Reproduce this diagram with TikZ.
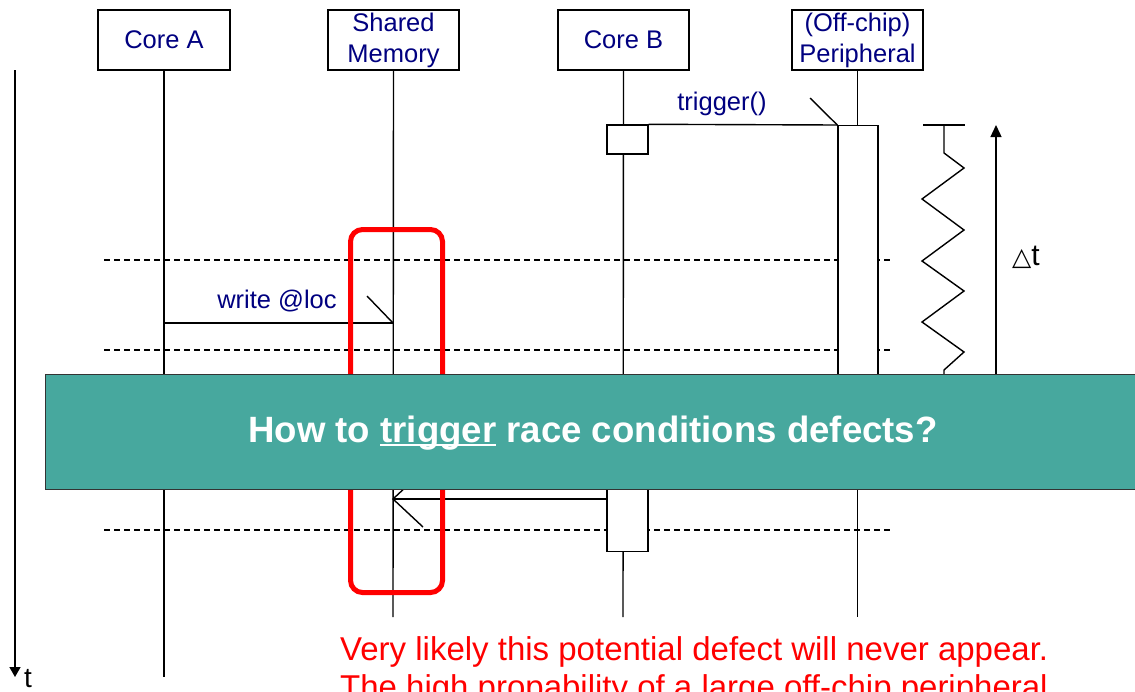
\documentclass[tikz,border=0pt]{standalone}
\usepackage{fontspec}
\setmainfont{Liberation Sans}
\newfontfamily\dejavu{DejaVu Sans}
\usetikzlibrary{arrows.meta}
\definecolor{navy}{RGB}{0,0,128}
\definecolor{bannerteal}{RGB}{71,168,158}
\newcommand\myul[1]{\setbox0\hbox{#1}\rlap{\rule[-4pt]{\wd0}{2.5pt}}\box0\relax}
\begin{document}
\begin{tikzpicture}[x=1pt,y=-1pt,
  lbl/.style={font=\fontsize{25.5}{31}\selectfont, text=navy},
  head/.style={draw, line width=1.4pt, fill=white, minimum width=131pt, minimum height=60pt, inner sep=0pt, align=center, lbl},
  life/.style={line width=1.4pt},
  act/.style={draw, line width=1.4pt, fill=white, inner sep=0pt},
  dashline/.style={dash pattern=on 6pt off 4pt, line width=1.1pt},
  msg/.style={line width=1.4pt}]
\useasboundingbox (0,0) rectangle (1135,691);
\fill[white] (0,0) rectangle (1135,691);

% heads
\node[head, minimum width=132pt] (coreA) at (164,40) {Core A};
\node[head] (mem) at (393.5,40) {Shared\\Memory};
\node[head] (coreB) at (623.5,40) {Core B};
\node[head] (peri) at (857.5,40) {(Off-chip)\\Peripheral};

% lifelines
\coordinate (aEnd) at (164,677);
\coordinate (mEnd) at (393,617);
\coordinate (bEnd) at (623,617);
\coordinate (pEnd) at (857.5,617);
\draw[life] (coreA.south) -- (aEnd);
\draw[life] (mem.south) -- (mEnd);
\draw[life] (coreB.south) -- (bEnd);
\draw[life] (peri.south) -- (pEnd);

% time axis
\coordinate (t0) at (15,70);
\coordinate (t1) at (15,677);
\draw[line width=1.4pt, -{Triangle[length=10pt,width=11pt]}] (t0) -- (t1);
\node[font=\fontsize{28}{30}\selectfont, inner sep=0pt, anchor=base] (tlbl) at (28,687) {t};

% dashed lines
\coordinate (d1l) at (104,260); \coordinate (d1r) at (892,260);
\coordinate (d2l) at (104,350); \coordinate (d2r) at (892,350);
\coordinate (d3l) at (104,530); \coordinate (d3r) at (892,530);
\draw[dashline] (d1l) -- (d1r);
\draw[dashline] (d2l) -- (d2r);
\draw[dashline] (d3l) -- (d3r);

% activations
\node[act, minimum width=41pt, minimum height=29pt] (actB1) at (627.5,139.5) {};
\node[act, minimum width=40pt, minimum height=310pt, anchor=north] (actP) at (858,125) {};
\node[act, minimum width=41pt, minimum height=90pt, anchor=south] (actB2) at (627.5,552) {};

% trigger message
\draw[msg] (actB1.north east) -- (actP.north west);
\coordinate (trgTick) at (810,98);
\draw[msg] (trgTick) -- (actP.north west);
\node[lbl] (trg) at (722,104) {trigger()};

% write message
\coordinate (wA) at (164,323);
\coordinate (wM) at (393,323);
\coordinate (wTick) at (367,296);
\draw[msg] (wA) -- (wM);
\draw[msg] (wTick) -- (wM);
\node[lbl] (wlbl) at (277,301) {write @loc};

% return message
\coordinate (rM) at (393,499);
\coordinate (rTickA) at (423,527);
\coordinate (rTickB) at (423,471);
\draw[msg] (actB2.west |- rM) -- (rM);
\draw[msg] (rTickA) -- (rM) -- (rTickB);

% red critical region
\node[draw=red, line width=5pt, rounded corners=12pt, minimum width=92pt, minimum height=363pt, inner sep=0pt] (hot) at (396.5,411) {};

% zigzag delay
\draw[line width=1.4pt] (923,125) -- (965,125);
\draw[line width=1.4pt] (944,125) -- (944,153) -- (964,168) -- (922,199) -- (964,230) -- (922,261) -- (964,291) -- (922,322) -- (964,352) -- (944,370) -- (944,380);

% delta t arrow
\coordinate (dtBot) at (996,380);
\coordinate (dtTop) at (996,125);
\draw[line width=1.4pt, -{Triangle[length=12pt,width=11pt]}] (dtBot) -- (dtTop);
\node[font=\fontsize{30}{32}\selectfont, inner sep=0pt] (dtlbl) at (1026,257) {{\dejavu\fontsize{25}{26}\selectfont △}t};

% banner
\node[draw=black!80, fill=bannerteal, line width=1.3pt, minimum width=1100pt, minimum height=115pt, anchor=north west, inner sep=0pt] (banner) at (45,374) {};
\node[font=\bfseries\fontsize{36.6}{40}\selectfont, text=white] (question) at (593,433) {How to \myul{trigger} race conditions defects?};

% note
\node[anchor=base west, inner sep=0pt, font=\fontsize{33}{38}\selectfont, text=red] (note1) at (340,660) {Very likely this potential defect will never appear.};
\node[anchor=base west, inner sep=0pt, font=\fontsize{33}{38}\selectfont, text=red] (note2) at (340,698) {The high propability of a large off-chip peripheral};
\end{tikzpicture}
\end{document}
